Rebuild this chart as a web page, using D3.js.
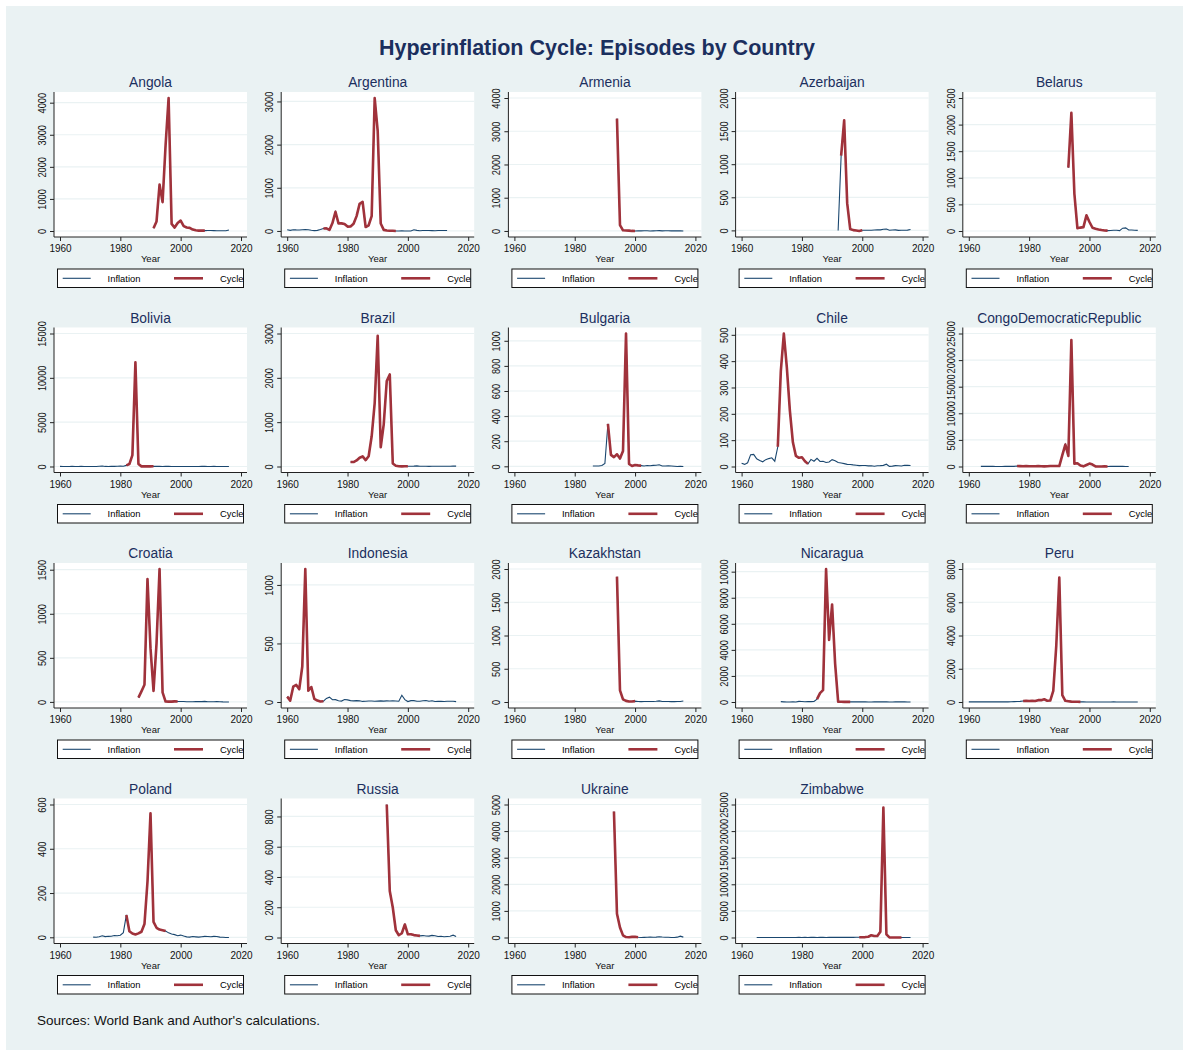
<!DOCTYPE html>
<html>
<head>
<meta charset="utf-8">
<script src="https://cdn.jsdelivr.net/npm/d3@7"></script>
<style>
  body { margin: 0; background: #fff; }
  text { font-family: "Liberation Sans", Arial, sans-serif; }
</style>
</head>
<body>
<svg id="chart" width="1188" height="1053"></svg>
<script>
// country panels, in the order they appear
const countries = ['Angola', 'Argentina', 'Armenia', 'Azerbaijan', 'Belarus',
  'Bolivia', 'Brazil', 'Bulgaria', 'Chile', 'CongoDemocraticRepublic',
  'Croatia', 'Indonesia', 'Kazakhstan', 'Nicaragua', 'Peru',
  'Poland', 'Russia', 'Ukraine', 'Zimbabwe'];

// first year of each inflation series
const startYears = [1991, 1960, 1994, 1992, 1993,
  1960, 1981, 1986, 1960, 1964,
  1986, 1960, 1994, 1973, 1960,
  1971, 1993, 1993, 1965];

// hyperinflation cycle window (first and last year)
const cycleStart = [1991, 1972, 1994, 1993, 1993, 1982, 1981, 1991, 1972, 1976, 1986, 1960, 1994, 1985, 1978, 1982, 1993, 1993, 1999];
const cycleEnd = [2008, 1996, 2000, 2000, 2006, 1991, 2000, 2002, 1982, 2006, 1999, 1972, 2000, 1996, 1997, 1995, 2004, 2001, 2013];

// y axis ticks: top label and step
const yTickMax = [4000, 3000, 4000, 2000, 2500, 15000, 3000, 1000, 500, 25000, 1500, 1000, 2000, 10000, 8000, 600, 800, 5000, 25000];
const yTickStep = [1000, 1000, 1000, 500, 500, 5000, 1000, 200, 100, 5000, 500, 500, 500, 2000, 2000, 200, 200, 1000, 5000];

const xTicks = [1960, 1980, 2000, 2020];

// annual inflation (%), one array per country, from startYears
const inflation = [
  [84, 299, 1450, 900, 2672, 4146, 221, 107, 248, 325, 153, 109, 98, 44, 23, 13, 12, 12, 14, 14, 13, 10, 9, 7, 9, 31],
  [27, 13.5, 28, 24, 22, 29, 32, 29, 16, 7.6, 13.6, 34.7, 58.4, 61.2, 23.5, 182.9, 444, 176, 175.5, 159.5, 100.8, 104.5, 164.8, 343.8, 626.7, 672.2, 90.1, 131.3, 343, 3079.8, 2314, 171.7, 24.9, 10.6, 4.2, 3.4, 0.2, 0.5, 0.9, -1.2, -0.9, -1.1, 25.9, 13.4, 4.4, 9.6, 10.9, 8.8, 8.6, 6.3, 10.5, 9.8, 10, 10.6],
  [3380, 176, 19, 14, 9, 1, -1, 3, 1, 5, 7, 0.6, 2.9, 4.4, 9, 3.4, 8.2, 7.7, 2.6, 5.8, 3, 3.7, -1.4],
  [0, 1130, 1664, 412, 20, 4, -1, -9, 2, 1.5, 2.8, 2.2, 6.7, 9.7, 8.4, 16.6, 20.8, 1.4, 5.7, 7.9, 1.1, 2.4, 1.4, 4, 12.4],
  [1190, 2221, 700, 53, 64, 73, 294, 169, 61, 43, 28, 18, 10, 7, 8.4, 14.8, 13, 7.7, 53, 59, 18, 18, 13.5, 11.8],
  [11.5, 7.8, 5.9, -0.6, 10.2, 2.9, 7, 11.2, 5.5, 2.2, 3.8, 3.7, 6.5, 31.5, 62.8, 8, 4.5, 8.1, 10.4, 19.7, 47.2, 32.1, 123.5, 275.6, 1281, 11750, 276, 14.6, 16, 15.2, 17.1, 21.4, 12.1, 8.5, 7.9, 10.2, 12.4, 4.7, 7.7, 2.2, 4.6, 1.6, 0.9, 3.3, 4.4, 5.4, 4.3, 8.7, 14, 3.3, 2.5, 9.8, 4.5, 5.7, 5.8, 4.1, 3.6],
  [101, 100, 136, 197, 227, 145, 230, 682, 1431, 2948, 433, 952, 1928, 2076, 66, 15.8, 6.9, 3.2, 4.9, 7, 6.8, 8.5, 14.7, 6.6, 6.9, 4.2, 3.6, 5.7, 4.9, 5, 6.6, 5.4, 6.2, 6.3, 9, 8.7],
  [2.7, 2.7, 2.4, 6.4, 23.8, 339, 91, 73, 96, 62, 122, 1058, 18.7, 2.6, 10.3, 7.4, 5.8, 2.3, 6.1, 5, 7.3, 8.4, 12.3, 2.8, 2.4, 4.2, 3, 0.9, -1.4, -0.1, -0.8],
  [12, 8, 14, 45, 46, 29, 23, 18, 26, 30, 33, 20, 75, 362, 505, 375, 212, 92, 40, 33, 35, 20, 10, 27, 20, 31, 19, 20, 15, 17, 26, 22, 15, 13, 11, 8, 7.4, 6, 5, 3.3, 3.8, 3.6, 2.5, 2.8, 1.1, 3, 3.4, 4.4, 8.7, 0.4, 1.4, 3.3, 3, 1.8, 4.7, 4.3, 3.8],
  [30, 25, 20, 20, 25, 10, 8, 4, 20, 16, 30, 30, 80, 62, 48, 101, 46, 35, 37, 77, 52, 24, 47, 90, 83, 104, 81, 2154, 4129, 1987, 23773, 542, 617, 199, 29, 285, 550, 357, 25, 13, 4, 21, 13, 17, 18, 46, 23, 15, 9, 1],
  [49, 120, 194, 1395, 610, 124, 665, 1508, 108, 4, 3.5, 3.6, 5.7, 4, 4.6, 3.8, 1.7, 1.8, 2.1, 3.3, 3.2, 2.9, 6.1, 2.4, 1, 2.3, 3.4, 2.2, -0.2, -0.5, -1.1],
  [46, 12, 131, 146, 110, 303, 1136, 97, 128, 26, 12, 4, 6.5, 31, 41, 19, 20, 11, 8, 21, 18, 12, 9.5, 12, 10, 5, 6, 9, 8, 6.4, 7.8, 9.4, 7.5, 9.7, 8.5, 9.4, 8, 6.2, 58, 20.5, 3.7, 11.5, 11.9, 6.8, 6.1, 10.5, 13.1, 6.4, 10.2, 4.4, 5.1, 5.4, 4.3, 6.4, 6.4, 6.4, 3.5],
  [1885, 176, 39, 17, 7, 8, 13, 8.4, 5.9, 6.4, 6.9, 7.6, 8.6, 10.8, 17.2, 7.3, 7.1, 8.3, 5.1, 5.8, 6.7, 6.7, 14.6],
  [27, 13, 1.8, 2.9, 11.4, 4.6, 48, 35, 24, 25, 31, 35, 220, 682, 912, 10205, 4770, 7485, 2945, 24, 20, 7.7, 11.2, 11.6, 9.2, 13, 11.2, 11.5, 7.4, 3.9, 5.3, 8.5, 9.6, 9.1, 11.1, 19.8, 3.7, 5.5, 8.1, 7.2, 7.1, 6, 4, 3.5],
  [8.6, 6, 6.7, 6, 10, 16.4, 8.9, 9.8, 19, 6.3, 5, 6.8, 7.2, 9.5, 16.9, 23.6, 33.5, 38, 57.8, 67.7, 59.2, 75.4, 64.4, 111, 110, 163, 77.9, 85.8, 667, 3399, 7482, 409.5, 73.5, 48.6, 23.7, 11.1, 11.5, 8.6, 7.3, 3.5, 3.8, 2, 0.2, 2.3, 3.7, 1.6, 2, 1.8, 5.8, 2.9, 1.5, 3.4, 3.7, 2.8, 3.2, 3.5, 3.6],
  [1, 0, 2.8, 7, 3, 4.4, 4.9, 8.1, 7, 9.4, 21, 101, 27, 17, 13, 17.7, 25, 60, 251, 560, 70, 43, 35, 32, 28, 20, 15, 12, 7.3, 10, 5.5, 1.9, 0.8, 3.5, 2.1, 1, 2.5, 4.2, 3.8, 2.6, 4.3, 3.7, 0.9, 0, -0.9, -0.6],
  [879, 307, 198, 48, 15, 28, 86, 21, 21.5, 15.8, 13.7, 10.9, 12.7, 9.7, 9, 14.1, 11.6, 6.8, 8.4, 5.1, 6.8, 7.8, 15.5, 7],
  [4735, 891, 377, 80, 15.9, 10.6, 22.7, 28.2, 12, 0.8, 5.2, 9, 13.5, 9.1, 12.8, 25.2, 15.9, 9.4, 8, 0.6, -0.3, 12.1, 48.7, 13.9],
  [2.5, 3.5, 1.7, 2.1, 2.9, 2.2, 3.2, 2.9, 3.3, 6.6, 10, 11, 10.3, 5.4, 13, 5.4, 13.1, 10.6, 23.1, 20.2, 8.5, 14.3, 12.5, 7.4, 12.9, 17.4, 23.3, 42.1, 27.6, 22.3, 22.6, 21.4, 18.7, 31.7, 58, 55.9, 76.7, 140, 432, 282, 302, 1097, 24411, 600, 6.2, 3, 3.5, 3.7, 1.6, -0.2, -2.4, -1.6]
];

const navy = '#1a476f';
const maroon = '#a0323b';
const bg = '#eaf2f3';

const svg = d3.select('#chart');

svg.append('rect')
  .attr('x', 6).attr('y', 6)
  .attr('width', 1177).attr('height', 1044)
  .attr('fill', bg);

svg.append('text')
  .attr('x', 597).attr('y', 55)
  .attr('text-anchor', 'middle')
  .style('font-size', '21.5px')
  .style('font-weight', 'bold')
  .style('fill', '#1b2f5e')
  .text('Hyperinflation Cycle: Episodes by Country');

svg.append('text')
  .attr('x', 37).attr('y', 1025)
  .style('font-size', '13.5px')
  .style('fill', '#111')
  .text("Sources: World Bank and Author's calculations.");

const w = 193;
const h = 145;
const pad = 6;

function drawPanel(name, i) {
  const col = i % 5;
  const row = Math.floor(i / 5);
  const g = svg.append('g')
    .attr('transform', `translate(${54 + col * 227.2},${92 + row * 235.5})`);

  const data = inflation[i].map((v, k) => ({ year: startYears[i] + k, value: v }));
  const cycle = data.filter(d => d.year >= cycleStart[i] && d.year <= cycleEnd[i]);
  const yTicks = d3.range(0, yTickMax[i] + 1, yTickStep[i]);

  const xScale = d3.scaleLinear().domain([1960, 2020]).range([pad, w - pad]);
  const yScale = d3.scaleLinear()
    .domain([Math.min(0, d3.min(inflation[i])), Math.max(yTickMax[i], d3.max(inflation[i]))])
    .range([h - pad, pad]);

  g.append('rect').attr('width', w).attr('height', h).attr('fill', '#fff');

  g.selectAll('.grid')
    .data(yTicks)
    .enter().append('line')
    .attr('class', 'grid')
    .attr('x1', 0).attr('x2', w)
    .attr('y1', d => yScale(d)).attr('y2', d => yScale(d))
    .attr('stroke', bg)
    .attr('stroke-width', 1.2);

  // y axis
  const ya = g.append('g')
    .call(d3.axisLeft(yScale).tickValues(yTicks).tickSize(4).tickSizeOuter(0).tickFormat(d3.format('d')));
  ya.select('.domain').remove();
  ya.selectAll('line').attr('stroke', '#222');
  ya.selectAll('text')
    .attr('x', 0).attr('y', -8).attr('dy', 0)
    .attr('text-anchor', 'middle')
    .attr('transform', 'rotate(-90) scale(0.92,1)')
    .style('font-size', '10px')
    .style('fill', '#111');

  // x axis
  const xa = g.append('g')
    .attr('transform', `translate(0,${h})`)
    .call(d3.axisBottom(xScale).tickValues(xTicks).tickSize(4).tickSizeOuter(0).tickPadding(4).tickFormat(d3.format('d')));
  xa.select('.domain').remove();
  xa.selectAll('line').attr('stroke', '#222');
  xa.selectAll('text').style('font-size', '10px').style('fill', '#111');

  g.append('line').attr('x1', 0).attr('x2', 0).attr('y1', 0).attr('y2', h)
    .attr('stroke', '#222').attr('stroke-width', 1);
  g.append('line').attr('x1', 0).attr('x2', w).attr('y1', h).attr('y2', h)
    .attr('stroke', '#222').attr('stroke-width', 1);

  const line = d3.line()
    .x(d => xScale(d.year))
    .y(d => yScale(d.value));

  g.append('path')
    .datum(data)
    .attr('d', line)
    .attr('fill', 'none')
    .attr('stroke', navy)
    .attr('stroke-width', 1.1);

  g.append('path')
    .datum(cycle)
    .attr('d', line)
    .attr('fill', 'none')
    .attr('stroke', maroon)
    .attr('stroke-width', 2.6)
    .attr('stroke-linejoin', 'round');

  g.append('text')
    .attr('x', w / 2).attr('y', -5)
    .attr('text-anchor', 'middle')
    .style('font-size', '13.8px')
    .style('fill', '#1b2f5e')
    .text(name);

  g.append('text')
    .attr('x', w / 2).attr('y', h + 25)
    .attr('text-anchor', 'middle')
    .style('font-size', '9.5px')
    .style('fill', '#111')
    .text('Year');

  // legend
  const lg = g.append('g').attr('transform', `translate(0,${h + 32})`);
  lg.append('rect')
    .attr('x', 3.5).attr('y', 0)
    .attr('width', 186).attr('height', 18.5)
    .attr('fill', '#fff')
    .attr('stroke', '#111');
  lg.append('line')
    .attr('x1', 8.7).attr('x2', 36.7).attr('y1', 9.3).attr('y2', 9.3)
    .attr('stroke', navy).attr('stroke-width', 1.1);
  lg.append('text')
    .attr('x', 70).attr('y', 12.6)
    .attr('text-anchor', 'middle')
    .style('font-size', '9.4px')
    .text('Inflation');
  lg.append('line')
    .attr('x1', 120).attr('x2', 149).attr('y1', 9.3).attr('y2', 9.3)
    .attr('stroke', maroon).attr('stroke-width', 2.6);
  lg.append('text')
    .attr('x', 166).attr('y', 12.6)
    .style('font-size', '9.4px')
    .text('Cycle');
}

countries.forEach(drawPanel);
</script>
</body>
</html>
